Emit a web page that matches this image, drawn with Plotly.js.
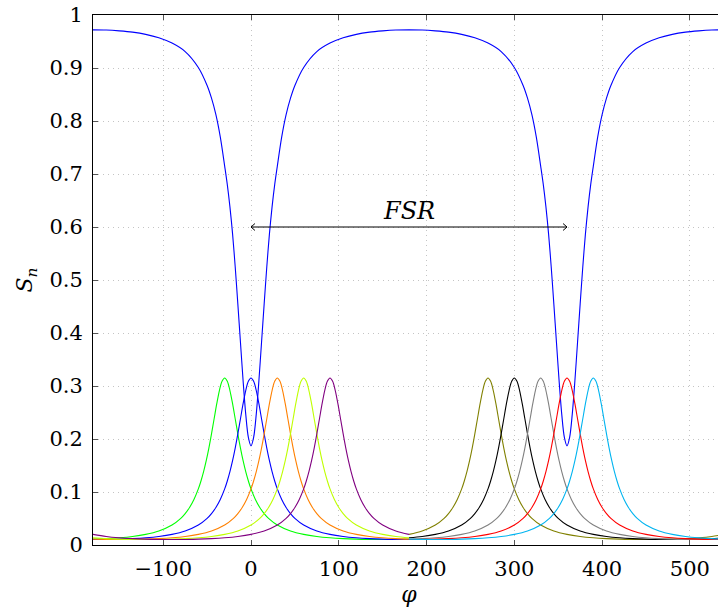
<!DOCTYPE html>
<html>
<head>
<meta charset="utf-8">
<script src="https://cdn.plot.ly/plotly-3.0.1.min.js"></script>
<style>
  html, body { margin: 0; padding: 0; overflow: hidden; background: #fff; }
  #chart { width: 730px; height: 612px; }
</style>
</head>
<body>
<div id="chart"></div>
<script>
// ---- data ----
// x-axis: phase φ (degrees), y-axis: S_n
const xTickVals = [-100, 0, 100, 200, 300, 400, 500];
const yTickVals = [0, 0.1, 0.2, 0.3, 0.4, 0.5, 0.6, 0.7, 0.8, 0.9, 1];

// drop-port resonance profile: distance from resonance centre -> S_n
const dropOffset = [0, 3, 6, 9, 12, 15, 18, 21, 24, 27, 30, 35, 40, 45, 50, 60, 75, 90, 105, 120, 135, 150, 165, 180, 195, 210, 225, 240, 255, 270];
const dropValue  = [0.315, 0.3088, 0.2915, 0.2666, 0.2382, 0.2096, 0.1829, 0.1591, 0.1384, 0.1208, 0.1058, 0.0859, 0.0708, 0.0592, 0.0502, 0.0376, 0.0264, 0.0200, 0.0161, 0.0136, 0.0120, 0.0110, 0.0105, 0.0103, 0.0105, 0.0110, 0.0120, 0.0136, 0.0161, 0.0200];

// through-port (blue) profile: distance from resonance centre -> S_n
const throughOffset = [0, 3, 6, 9, 12, 15, 18, 21, 24, 27, 30, 35, 40, 45, 50, 60, 75, 90, 105, 120, 135, 150, 165, 180];
const throughValue  = [0.187, 0.203, 0.247, 0.310, 0.382, 0.455, 0.525, 0.587, 0.638, 0.680, 0.715, 0.770, 0.812, 0.843, 0.867, 0.901, 0.931, 0.947, 0.957, 0.9635, 0.9676, 0.970, 0.9716, 0.972];
const throughCenters = [0, 360];
const throughRanges  = [[-180, 180], [180, 540]];

// first group of drop channels (drawn over -180..180)
const group1Centers = [-30, 0, 30, 60, 90];
const group1Colors  = ['#00ff00', '#0000ff', '#ff8000', '#bfff00', '#800080'];
const group1Range   = [-180, 180];
// second group of drop channels (drawn over 180..540)
const group2Centers = [270, 300, 330, 360, 390];
const group2Colors  = ['#808000', '#000000', '#808080', '#ff0000', '#00b4f0'];
const group2Range   = [180, 540];

// FSR marker
const fsrStart = 0, fsrEnd = 360, fsrLevel = 0.6, fsrLabel = '<i>FSR</i>';

// ---- build curves from the profiles ----
function curve(center, range, off, val) {
  const xs = [], ys = [];
  for (let i = off.length - 1; i >= 1; i--) {
    const x = center - off[i];
    if (x >= range[0] && x <= range[1]) { xs.push(x); ys.push(val[i]); }
  }
  for (let i = 0; i < off.length; i++) {
    const x = center + off[i];
    if (x >= range[0] && x <= range[1]) { xs.push(x); ys.push(val[i]); }
  }
  return {xs, ys};
}

const traces = [];
// through port
{
  let bx = [], by = [];
  throughCenters.forEach((c, k) => {
    const r = curve(c, throughRanges[k], throughOffset, throughValue);
    let start = 0;
    if (bx.length && r.xs[0] === bx[bx.length - 1]) start = 1;
    bx = bx.concat(r.xs.slice(start)); by = by.concat(r.ys.slice(start));
  });
  traces.push({x: bx, y: by, type: 'scatter', mode: 'lines',
    line: {color: '#0000ff', width: 1.1, shape: 'spline', smoothing: 0.9}, hoverinfo: 'skip'});
}
group1Centers.forEach((c, k) => {
  const r = curve(c, group1Range, dropOffset, dropValue);
  traces.push({x: r.xs, y: r.ys, type: 'scatter', mode: 'lines',
    line: {color: group1Colors[k], width: 1.1, shape: 'spline', smoothing: 0.9}, hoverinfo: 'skip'});
});
group2Centers.forEach((c, k) => {
  const r = curve(c, group2Range, dropOffset, dropValue);
  traces.push({x: r.xs, y: r.ys, type: 'scatter', mode: 'lines',
    line: {color: group2Colors[k], width: 1.1, shape: 'spline', smoothing: 0.9}, hoverinfo: 'skip'});
});

const font = {family: 'DejaVu Serif, Liberation Serif, serif', size: 21, color: '#000'};
const titleFont = {family: 'DejaVu Serif, serif', size: 22, color: '#000'};
const ahX = 4.5, ahY = 0.0065;

const layout = {
  width: 730, height: 612,
  margin: {l: 93, r: 5, t: 15, b: 67},
  paper_bgcolor: '#fff', plot_bgcolor: '#fff',
  showlegend: false,
  font: font,
  xaxis: {
    range: [-180, 540], tickvals: xTickVals, ticks: 'inside', ticklen: 5, tickcolor: '#555',
    showline: true, linecolor: '#000', linewidth: 1, mirror: 'ticks',
    showgrid: true, gridcolor: '#c4c4c4', griddash: '1px,4px', gridwidth: 1,
    zeroline: false, tickfont: font, ticklabelstandoff: 5,
    title: {text: '<i>φ</i>', font: titleFont, standoff: 6}
  },
  yaxis: {
    range: [0, 1], tickvals: yTickVals, ticktext: yTickVals.map(v => String(v)),
    ticks: 'inside', ticklen: 5, tickcolor: '#555',
    showline: true, linecolor: '#000', linewidth: 1, mirror: 'ticks',
    showgrid: true, gridcolor: '#c4c4c4', griddash: '1px,4px', gridwidth: 1,
    zeroline: false, tickfont: font, ticklabelstandoff: 5,
    title: {text: '<i>S</i><sub><i>n</i></sub>', font: titleFont, standoff: 10}
  },
  shapes: [
    {type: 'line', xref: 'x', yref: 'y', x0: fsrStart, x1: fsrEnd, y0: fsrLevel, y1: fsrLevel,
     line: {color: '#000', width: 1}},
    {type: 'path', xref: 'x', yref: 'y',
     path: `M ${fsrStart + ahX},${fsrLevel + ahY} L ${fsrStart},${fsrLevel} L ${fsrStart + ahX},${fsrLevel - ahY}`,
     line: {color: '#000', width: 1}},
    {type: 'path', xref: 'x', yref: 'y',
     path: `M ${fsrEnd - ahX},${fsrLevel + ahY} L ${fsrEnd},${fsrLevel} L ${fsrEnd - ahX},${fsrLevel - ahY}`,
     line: {color: '#000', width: 1}}
  ],
  annotations: [
    {x: (fsrStart + fsrEnd) / 2, y: fsrLevel, xref: 'x', yref: 'y', text: fsrLabel,
     showarrow: false, yanchor: 'middle', yshift: 16,
     font: {family: 'DejaVu Serif, serif', size: 24, color: '#000'}}
  ]
};

Plotly.newPlot('chart', traces, layout, {displayModeBar: false, staticPlot: true});
</script>
</body>
</html>
